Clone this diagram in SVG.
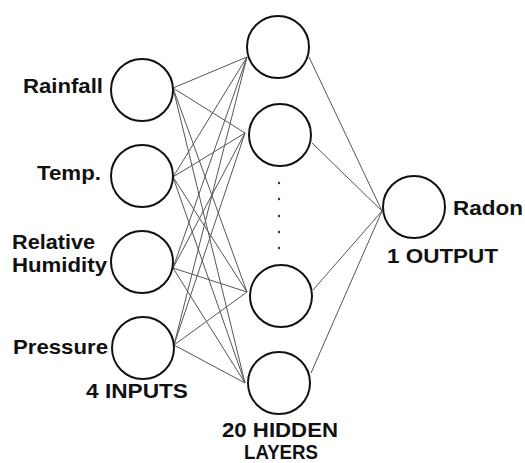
<svg xmlns="http://www.w3.org/2000/svg" width="525" height="463" viewBox="0 0 525 463">
<style>
.n{fill:#fff;stroke:#111;stroke-width:2}
.c line{stroke:#555;stroke-width:1}
.t{font-family:"Liberation Sans",Arial,sans-serif;font-weight:bold;font-size:21px;fill:#111}
.d{fill:#333}
</style>
<rect width="525" height="463" fill="#fff"/>
<g class="c" id="connectors">
<line x1="173" y1="88" x2="247" y2="57"/>
<line x1="173" y1="88" x2="245" y2="133"/>
<line x1="173" y1="88" x2="247" y2="292"/>
<line x1="173" y1="88" x2="245" y2="383"/>
<line x1="173" y1="177" x2="247" y2="57"/>
<line x1="173" y1="177" x2="245" y2="133"/>
<line x1="173" y1="177" x2="247" y2="292"/>
<line x1="173" y1="177" x2="245" y2="383"/>
<line x1="173" y1="268" x2="247" y2="57"/>
<line x1="173" y1="268" x2="245" y2="133"/>
<line x1="173" y1="268" x2="247" y2="292"/>
<line x1="173" y1="268" x2="245" y2="383"/>
<line x1="174" y1="345" x2="247" y2="57"/>
<line x1="174" y1="345" x2="245" y2="133"/>
<line x1="174" y1="345" x2="247" y2="292"/>
<line x1="174" y1="345" x2="245" y2="383"/>
<line x1="309" y1="57" x2="382" y2="211"/>
<line x1="312" y1="143" x2="382" y2="211"/>
<line x1="313" y1="290" x2="382" y2="211"/>
<line x1="311" y1="373" x2="382" y2="211"/>
</g>
<g id="in-rainfall"><circle class="n" cx="142" cy="90" r="31"/><text class="t" x="23" y="92.5" textLength="80" lengthAdjust="spacingAndGlyphs">Rainfall</text></g>
<g id="in-temp"><circle class="n" cx="142" cy="176" r="31"/><text class="t" x="37" y="180" textLength="64" lengthAdjust="spacingAndGlyphs">Temp.</text></g>
<g id="in-humidity"><circle class="n" cx="142" cy="262" r="31"/><text class="t" x="12" y="249" textLength="83" lengthAdjust="spacingAndGlyphs">Relative</text><text class="t" x="12" y="272" textLength="95" lengthAdjust="spacingAndGlyphs">Humidity</text></g>
<g id="in-pressure"><circle class="n" cx="143" cy="348" r="31"/><text class="t" x="13" y="354" textLength="95" lengthAdjust="spacingAndGlyphs">Pressure</text></g>
<g id="h1"><circle class="n" cx="278" cy="47" r="31"/></g>
<g id="h2"><circle class="n" cx="280" cy="135" r="31"/></g>
<g id="h3"><circle class="n" cx="281" cy="296" r="31"/></g>
<g id="h4"><circle class="n" cx="279" cy="383" r="31"/></g>
<g id="dots">
<circle class="d" cx="279" cy="183" r="1.2"/>
<circle class="d" cx="279" cy="199" r="1.2"/>
<circle class="d" cx="279" cy="216" r="1.2"/>
<circle class="d" cx="279" cy="232" r="1.2"/>
<circle class="d" cx="279" cy="248" r="1.2"/>
</g>
<g id="out-radon"><circle class="n" cx="414" cy="207" r="31"/><text class="t" x="453" y="215" textLength="70" lengthAdjust="spacingAndGlyphs">Radon</text></g>
<g id="labels">
<text class="t" x="86" y="398" textLength="102" lengthAdjust="spacingAndGlyphs">4 INPUTS</text>
<text class="t" x="387" y="263" textLength="111" lengthAdjust="spacingAndGlyphs">1 OUTPUT</text>
<text class="t" x="222" y="437" textLength="116" lengthAdjust="spacingAndGlyphs">20 HIDDEN</text>
<text class="t" x="244" y="459" textLength="74" lengthAdjust="spacingAndGlyphs">LAYERS</text>
</g>
</svg>
